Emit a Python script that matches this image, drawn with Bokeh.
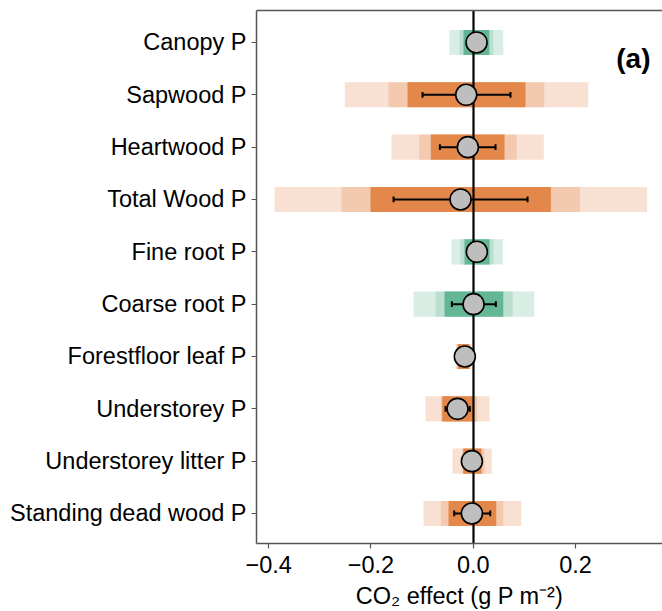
import math
from bokeh.plotting import figure
from bokeh.models import (ColumnDataSource, FixedTicker, CustomJSTickFormatter,
                          LinearAxis, Range1d, Label)
from bokeh.embed import file_html
from bokeh.resources import INLINE

labels = ["Canopy P", "Sapwood P", "Heartwood P", "Total Wood P", "Fine root P",
          "Coarse root P", "Forestfloor leaf P", "Understorey P",
          "Understorey litter P", "Standing dead wood P"]
mean = [0.0065, -0.0137, -0.0105, -0.0248, 0.0071, 0.0006, -0.0164, -0.0307, -0.0026, -0.0026]
err_lo = [-0.004, -0.0991, -0.0652, -0.1558, -0.003, -0.0418, -0.022, -0.0541, -0.008, -0.0372]
err_hi = [0.017, 0.0729, 0.0436, 0.1062, 0.017, 0.0442, -0.011, -0.0066, 0.003, 0.0332]
dark_lo = [-0.019, -0.1284, -0.0829, -0.2008, -0.0170, -0.0561, -0.030, -0.0606, -0.0196, -0.0483]
dark_hi = [0.0313, 0.1022, 0.0612, 0.1518, 0.0319, 0.0587, -0.008, 0.0000, 0.0162, 0.0450]
mid_lo = [-0.0268, -0.1656, -0.1056, -0.2575, -0.0248, -0.0737, -0.032, -0.0630, -0.0209, -0.0633]
mid_hi = [0.0391, 0.1388, 0.0847, 0.2085, 0.0397, 0.0768, -0.006, 0.0078, 0.0221, 0.0587]
light_lo = [-0.0463, -0.2510, -0.1597, -0.3885, -0.0424, -0.1167, -0.034, -0.0933, -0.0405, -0.0972]
light_hi = [0.0587, 0.2248, 0.1380, 0.3400, 0.0580, 0.1193, -0.004, 0.0319, 0.0364, 0.0938]
direction = ["up", "down", "down", "down", "up", "up", "down", "down", "down", "down"]
x_ticks = [-0.4, -0.2, 0.0, 0.2]
panel_tag = "(a)"

COLORS = {"up": "#64B795", "down": "#E3884A"}
n = len(labels)
ypos = [n - i for i in range(n)]
colors = [COLORS[d] for d in direction]

src = ColumnDataSource(dict(y=ypos, mean=mean, elo=err_lo, ehi=err_hi,
                            dlo=dark_lo, dhi=dark_hi, mlo=mid_lo, mhi=mid_hi,
                            llo=light_lo, lhi=light_hi, color=colors,
                            cap_lo=[v - 0.055 for v in ypos],
                            cap_hi=[v + 0.055 for v in ypos]))

p = figure(width=662, height=611, output_backend="svg", toolbar_location=None,
           x_range=Range1d(-0.4237, 0.370), y_range=Range1d(0.4267, 10.611),
           min_border_left=256, min_border_right=0, min_border_top=10,
           min_border_bottom=68)
p.xgrid.visible = False
p.ygrid.visible = False
p.outline_line_color = None
p.background_fill_color = "white"
p.border_fill_color = "white"

BAR_H = 0.48
p.hbar(y="y", left="llo", right="lhi", height=BAR_H, source=src,
       fill_color="color", fill_alpha=0.25, line_color=None)
p.hbar(y="y", left="mlo", right="mhi", height=BAR_H, source=src,
       fill_color="color", fill_alpha=0.25, line_color=None)
p.hbar(y="y", left="dlo", right="dhi", height=BAR_H, source=src,
       fill_color="color", fill_alpha=1.0, line_color=None)

p.vspan(x=[0.0], line_color="black", line_width=2.2)

p.segment(x0="elo", x1="ehi", y0="y", y1="y", source=src,
          line_color="black", line_width=2)
p.segment(x0="elo", x1="elo", y0="cap_lo", y1="cap_hi", source=src,
          line_color="black", line_width=2)
p.segment(x0="ehi", x1="ehi", y0="cap_lo", y1="cap_hi", source=src,
          line_color="black", line_width=2)

p.scatter(x="mean", y="y", source=src, size=21, marker="circle",
          fill_color="#BEBEBE", line_color="black", line_width=1.6)

FONT = "Liberation Sans"
AX = "#555555"
FS = "23.5px"

# y axis
p.yaxis.ticker = FixedTicker(ticks=ypos)
p.yaxis.major_label_overrides = {y: lab for y, lab in zip(ypos, labels)}
p.yaxis.major_label_text_font = FONT
p.yaxis.major_label_text_font_size = FS
p.yaxis.major_label_text_color = "black"
p.yaxis.major_label_standoff = 5
p.yaxis.minor_tick_line_color = None
p.yaxis.major_tick_in = 0
p.yaxis.major_tick_out = 5
p.yaxis.major_tick_line_color = AX
p.yaxis.axis_line_color = AX
p.yaxis.axis_line_width = 1.5
p.yaxis.major_tick_line_width = 1.2

# x axis
p.xaxis.ticker = FixedTicker(ticks=x_ticks)
p.xaxis.formatter = CustomJSTickFormatter(code="""
    var s = tick.toFixed(1);
    if (s == "-0.0") s = "0.0";
    return s.replace("-", "\u2212");
""")
p.xaxis.major_label_text_font = FONT
p.xaxis.major_label_text_font_size = FS
p.xaxis.major_label_text_color = "black"
p.xaxis.major_label_standoff = 7
p.xaxis.minor_tick_line_color = None
p.xaxis.major_tick_in = 0
p.xaxis.major_tick_out = 5
p.xaxis.major_tick_line_color = AX
p.xaxis.axis_line_color = AX
p.xaxis.axis_line_width = 1.5
p.xaxis.major_tick_line_width = 1.2
p.xaxis.axis_label = "CO\u2082 effect (g P m\u207b\u00b2)"
p.xaxis.axis_label_text_font = FONT
p.xaxis.axis_label_text_font_size = FS
p.xaxis.axis_label_text_font_style = "normal"
p.xaxis.axis_label_text_color = "black"
p.xaxis.axis_label_standoff = 7

# top spine
top = LinearAxis(ticker=FixedTicker(ticks=[]), major_tick_line_color=None,
                 minor_tick_line_color=None, major_label_text_font_size="0px",
                 axis_line_color=AX, axis_line_width=1.5,
                 major_tick_out=0, major_tick_in=0, major_label_standoff=0)
p.add_layout(top, "above")

p.add_layout(Label(x=0.313, y=9.69, text=panel_tag,
                   text_font=FONT, text_font_size="28px", text_font_style="bold",
                   text_align="center", text_baseline="middle", text_color="black"))

html = file_html(p, INLINE)
open("out.html", "w").write(html)
